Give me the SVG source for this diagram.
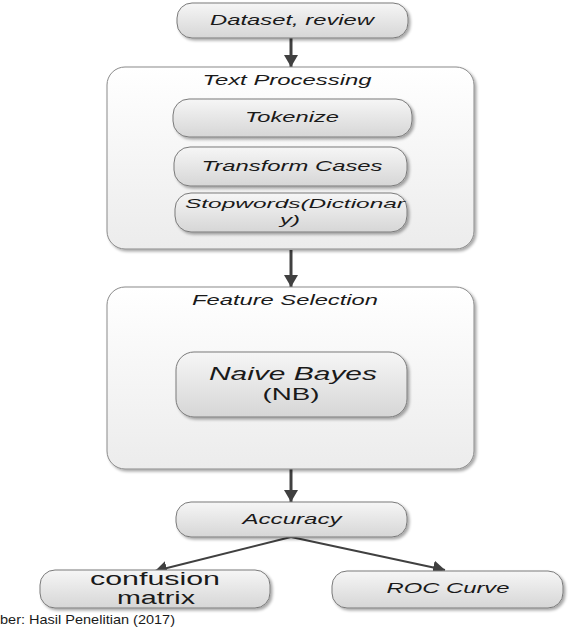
<svg xmlns="http://www.w3.org/2000/svg" width="575" height="629" viewBox="0 0 575 629">
<defs>
<linearGradient id="gBox" x1="0" y1="0" x2="0" y2="1">
<stop offset="0" stop-color="#f6f6f6"/>
<stop offset="1" stop-color="#d6d6d6"/>
</linearGradient>
<linearGradient id="gCont" x1="0" y1="0" x2="0" y2="1">
<stop offset="0" stop-color="#ffffff"/>
<stop offset="1" stop-color="#ececec"/>
</linearGradient>
<filter id="sh" x="-10%" y="-20%" width="125%" height="150%">
<feGaussianBlur in="SourceAlpha" stdDeviation="1.5"/>
<feOffset dx="2" dy="2" result="b"/>
<feComponentTransfer><feFuncA type="linear" slope="0.35"/></feComponentTransfer>
<feMerge><feMergeNode/><feMergeNode in="SourceGraphic"/></feMerge>
</filter>
<marker id="ah" markerUnits="userSpaceOnUse" markerWidth="16" markerHeight="14" refX="12" refY="7" orient="auto">
<path d="M0,0 L12,7 L0,14 Z" fill="#404040"/>
</marker>
</defs>
<style>
.box{fill:url(#gBox);stroke:#7a7a7a;stroke-width:1;filter:url(#sh)}
.cont{fill:url(#gCont);stroke:#8a8a8a;stroke-width:1;filter:url(#sh)}
.t{font-family:"Liberation Sans",Arial,sans-serif;font-style:italic;font-size:14px;fill:#1a1a1a;text-anchor:middle}
.n{font-family:"Liberation Sans",Arial,sans-serif;font-size:18px;fill:#1a1a1a;text-anchor:middle}
.c{stroke:#404040;fill:none}
</style>

<g id="connectors">
<line class="c" x1="291" y1="38" x2="291" y2="67" stroke-width="3" marker-end="url(#ah)"/>
<line class="c" x1="291" y1="250" x2="291" y2="287" stroke-width="3" marker-end="url(#ah)"/>
<line class="c" x1="291" y1="469" x2="291" y2="502" stroke-width="3" marker-end="url(#ah)"/>
<line class="c" x1="291" y1="537" x2="155" y2="571" stroke-width="2" marker-end="url(#ah)"/>
<line class="c" x1="291" y1="537" x2="445" y2="570" stroke-width="2" marker-end="url(#ah)"/>
</g>

<g id="dataset">
<rect class="box" x="177" y="3" width="231" height="35" rx="15"/>
<text class="t" x="292" y="25" textLength="164" lengthAdjust="spacingAndGlyphs">Dataset, review</text>
</g>

<g id="text-processing">
<rect class="cont" x="107" y="67" width="367" height="182" rx="18"/>
<text class="t" x="287" y="85" textLength="169" lengthAdjust="spacingAndGlyphs">Text Processing</text>
</g>

<g id="tokenize">
<rect class="box" x="173" y="99" width="239" height="38" rx="16"/>
<text class="t" x="292" y="122" textLength="94" lengthAdjust="spacingAndGlyphs">Tokenize</text>
</g>

<g id="transform-cases">
<rect class="box" x="174" y="147" width="233" height="39" rx="16"/>
<text class="t" x="292" y="171" textLength="181" lengthAdjust="spacingAndGlyphs">Transform Cases</text>
</g>

<g id="stopwords">
<rect class="box" x="175" y="193" width="232" height="39" rx="16"/>
<text class="t" x="295" y="208" style="font-size:13px" textLength="220" lengthAdjust="spacingAndGlyphs">Stopwords(Dictionar</text>
<text class="t" x="290" y="224" style="font-size:13px" textLength="20" lengthAdjust="spacingAndGlyphs">y)</text>
</g>

<g id="feature-selection">
<rect class="cont" x="107" y="287" width="367" height="182" rx="18"/>
<text class="t" x="285" y="305" textLength="186" lengthAdjust="spacingAndGlyphs">Feature Selection</text>
</g>

<g id="naive-bayes">
<rect class="box" x="176" y="352" width="231" height="65" rx="18"/>
<text class="t" x="293" y="380" style="font-size:18px" textLength="168" lengthAdjust="spacingAndGlyphs">Naive Bayes</text>
<text class="n" x="291" y="400" style="font-size:17px" textLength="57" lengthAdjust="spacingAndGlyphs">(NB)</text>
</g>

<g id="accuracy">
<rect class="box" x="176" y="502" width="231" height="35" rx="15"/>
<text class="t" x="292" y="524" textLength="99" lengthAdjust="spacingAndGlyphs">Accuracy</text>
</g>

<g id="confusion-matrix">
<rect class="box" x="40" y="570" width="230" height="38" rx="15"/>
<text class="n" x="155" y="585" textLength="130" lengthAdjust="spacingAndGlyphs">confusion</text>
<text class="n" x="156" y="604" textLength="78" lengthAdjust="spacingAndGlyphs">matrix</text>
</g>

<g id="roc-curve">
<rect class="box" x="332" y="571" width="231" height="37" rx="15"/>
<text class="t" x="448" y="593" textLength="123" lengthAdjust="spacingAndGlyphs">ROC Curve</text>
</g>

<text x="0" y="624" font-family="'Liberation Sans',Arial,sans-serif" font-size="13.5" fill="#1a1a1a" textLength="175" lengthAdjust="spacingAndGlyphs">ber: Hasil Penelitian (2017)</text>
</svg>
